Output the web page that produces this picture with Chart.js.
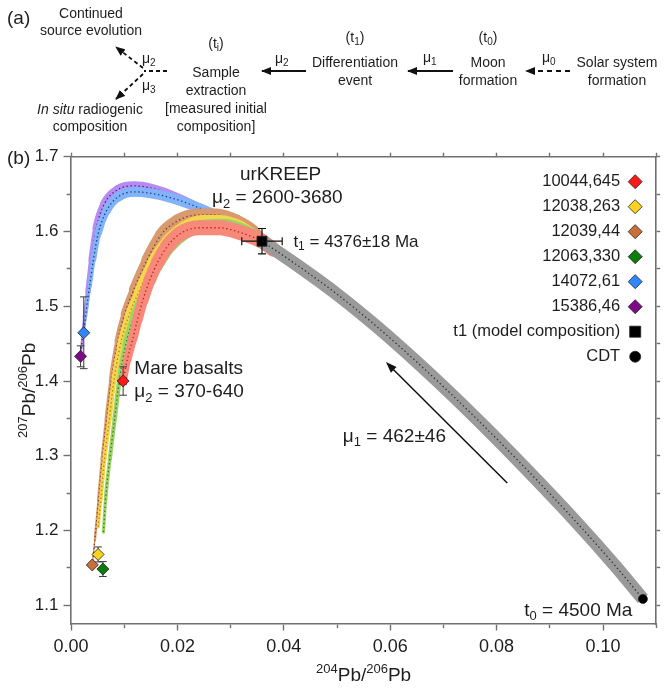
<!DOCTYPE html>
<html>
<head>
<meta charset="utf-8">
<script src="https://cdn.jsdelivr.net/npm/chart.js@4.4.1/dist/chart.umd.min.js"></script>
<style>
html, body { margin: 0; padding: 0; background: #fff; }
#wrap { position: relative; width: 664px; height: 689px; }
#lead { position: absolute; left: 0; top: 0; }
#flow { position: absolute; left: 0; top: 0; }
</style>
</head>
<body>
<div id="wrap">
<canvas id="lead" width="664" height="689"></canvas>

<!-- panel (a): the evolution scheme -->
<svg id="flow" width="664" height="140" viewBox="0 0 664 140" font-family="'Liberation Sans', Arial, sans-serif" font-size="14" fill="#1e1e1e">
  <defs>
    <marker id="head" viewBox="0 0 10 8" refX="9" refY="4" markerWidth="10" markerHeight="8" markerUnits="userSpaceOnUse" orient="auto">
      <path d="M0,0 L10,4 L0,8 Z" fill="#111"/>
    </marker>
  </defs>
  <text x="7" y="24" font-size="19">(a)</text>

  <text x="91" y="18" text-anchor="middle">Continued</text>
  <text x="91" y="35" text-anchor="middle">source evolution</text>
  <text x="142" y="63">μ<tspan font-size="10" dy="3">2</tspan></text>
  <text x="142" y="90">μ<tspan font-size="10" dy="3">3</tspan></text>
  <text x="90" y="114" text-anchor="middle"><tspan font-style="italic">In situ</tspan> radiogenic</text>
  <text x="90" y="131" text-anchor="middle">composition</text>
  <line x1="167" y1="71" x2="144" y2="71" stroke="#111" stroke-width="2.2" stroke-dasharray="4,3"/>
  <line x1="143" y1="68" x2="116" y2="47" stroke="#111" stroke-width="1.8" stroke-dasharray="4,3" marker-end="url(#head)"/>
  <line x1="143" y1="74" x2="116" y2="99" stroke="#111" stroke-width="1.8" stroke-dasharray="4,3" marker-end="url(#head)"/>

  <text x="216" y="48" text-anchor="middle">(t<tspan font-size="10" dy="3">i</tspan><tspan dy="-3">)</tspan></text>
  <text x="216" y="77" text-anchor="middle">Sample</text>
  <text x="216" y="95" text-anchor="middle">extraction</text>
  <text x="216" y="113" text-anchor="middle">[measured initial</text>
  <text x="216" y="131" text-anchor="middle">composition]</text>

  <text x="275" y="63">μ<tspan font-size="10" dy="3">2</tspan></text>
  <line x1="306" y1="71" x2="262" y2="71" stroke="#111" stroke-width="2" marker-end="url(#head)"/>

  <text x="355" y="42" text-anchor="middle">(t<tspan font-size="10" dy="3">1</tspan><tspan dy="-3">)</tspan></text>
  <text x="355" y="67" text-anchor="middle">Differentiation</text>
  <text x="355" y="85" text-anchor="middle">event</text>

  <text x="423" y="62">μ<tspan font-size="10" dy="3">1</tspan></text>
  <line x1="453" y1="71" x2="408" y2="71" stroke="#111" stroke-width="2" marker-end="url(#head)"/>

  <text x="488" y="42" text-anchor="middle">(t<tspan font-size="10" dy="3">0</tspan><tspan dy="-3">)</tspan></text>
  <text x="488" y="67" text-anchor="middle">Moon</text>
  <text x="488" y="85" text-anchor="middle">formation</text>

  <text x="542" y="62">μ<tspan font-size="10" dy="3">0</tspan></text>
  <line x1="570" y1="71" x2="526" y2="71" stroke="#111" stroke-width="2" stroke-dasharray="5,4" marker-end="url(#head)"/>

  <text x="617" y="67" text-anchor="middle">Solar system</text>
  <text x="617" y="85" text-anchor="middle">formation</text>
</svg>
</div>

<script>
// =====================================
// DATA
// =====================================

const sampleNames = ["10044,645", "12038,263", "12039,44", "12063,330", "14072,61", "15386,46"];
const sampleX    = [0.0098, 0.0051, 0.0040, 0.0060, 0.0024, 0.0018];
const sampleY    = [1.400, 1.168, 1.154, 1.1485, 1.4645, 1.433];
const sampleXErr = [0.0006, 0, 0, 0, 0, 0];
const sampleYErr = [0.019, 0.010, 0, 0.010, 0.048, 0.014];

const t1Point = [0.0359, 1.587];
const t1Err   = [0.0038, 0.017];
const cdtPoint = [0.1075, 1.1085];

// model growth curves (sample -> t1)
const curve10044 = [[0.0098,1.400],[0.0106,1.429],[0.0116,1.456],[0.0125,1.482],[0.0135,1.508],[0.0148,1.535],[0.0163,1.559],[0.0181,1.580],[0.0203,1.596],[0.0241,1.605],[0.0278,1.605],[0.0321,1.598],[0.0347,1.591],[0.0359,1.587],[0.0380,1.576]];
const curve12038 = [[0.0051,1.205],[0.0056,1.242],[0.0063,1.296],[0.0072,1.349],[0.0081,1.402],[0.0093,1.449],[0.0108,1.486],[0.0128,1.520],[0.0153,1.558],[0.0181,1.587],[0.0211,1.605],[0.0246,1.614],[0.0282,1.614],[0.0319,1.606],[0.0345,1.594],[0.0359,1.587]];
const curve12039 = [[0.0040,1.154],[0.0045,1.189],[0.0052,1.242],[0.0059,1.296],[0.0067,1.349],[0.0076,1.402],[0.0088,1.454],[0.0101,1.490],[0.0118,1.522],[0.0143,1.562],[0.0170,1.596],[0.0200,1.614],[0.0237,1.622],[0.0274,1.622],[0.0311,1.614],[0.0343,1.600],[0.0359,1.587]];
const curve12063 = [[0.0061,1.198],[0.0065,1.242],[0.0073,1.296],[0.0082,1.349],[0.0091,1.402],[0.0103,1.449],[0.0118,1.485],[0.0137,1.517],[0.0162,1.553],[0.0188,1.581],[0.0218,1.599],[0.0252,1.608],[0.0287,1.609],[0.0324,1.602],[0.0359,1.587]];
const curve14072 = [[0.0024,1.4645],[0.0029,1.496],[0.0035,1.527],[0.0042,1.562],[0.0051,1.597],[0.0067,1.628],[0.0088,1.646],[0.0119,1.653],[0.0150,1.651],[0.0188,1.645],[0.0225,1.636],[0.0262,1.625],[0.0315,1.604],[0.0359,1.587]];
const curve15386 = [[0.0018,1.433],[0.0022,1.462],[0.0026,1.485],[0.0032,1.520],[0.0039,1.562],[0.0048,1.605],[0.0063,1.637],[0.0088,1.656],[0.0119,1.661],[0.0150,1.658],[0.0188,1.649],[0.0240,1.632],[0.0297,1.612],[0.0359,1.587]];

// single stage growth CDT -> t1
const curveCdt = [[0.0359,1.587],[0.0427,1.554],[0.0502,1.515],[0.0576,1.472],[0.0669,1.413],[0.0763,1.349],[0.0856,1.282],[0.0949,1.212],[0.1024,1.152],[0.1075,1.1085]];

const growthArrow = [[0.0820, 1.2636], [0.0592, 1.4253]]; // tail, head

// =====================================
// STYLE
// =====================================

const FONT = "'Liberation Sans', Arial, Helvetica, sans-serif";
const AXIS = "#707070";
const INK = "#1e1e1e";

const markerColors = ["#ff1a1a", "#ffd21f", "#c9703a", "#0b7d0b", "#2f86ff", "#7d0a86"];

// band widths (px) along each curve
const width10044 = [7,8,9,10,11,12,13,14,15,15,15,15,15,15,14];
const width12038 = [3,3.5,4,4.5,5,6,7.5,9,10.5,11.5,12,12,12,12,11,11];
const width12039 = [1,2,3,3.5,4,4.5,6,7,9,11,12,13,13,13,13,12,12];
const width12063 = [3,3.5,4,4.5,5,6,7.5,9,10.5,11.5,12,12,12,12,12];
const width14072 = [2,3,4,5,6.5,8,9.5,10,10,10,10,10,10,10];
const width15386 = [2,3,4,5,6,7.5,8.5,9,9,9,9,9,9,9];

const toXY = pts => pts.map(p => ({x: p[0], y: p[1]}));

function bandSet(pts, widths, color){
    return {
        data: toXY(pts),
        showLine: true,
        borderColor: color,
        borderWidth: Math.max(...widths),
        borderCapStyle: "round",
        borderJoinStyle: "round",
        cubicInterpolationMode: "monotone",
        pointRadius: 0,
        segment: {
            borderWidth: c => (widths[c.p0DataIndex] + widths[c.p1DataIndex]) / 2
        }
    };
}

function dotSet(pts, color){
    return {
        data: toXY(pts),
        showLine: true,
        borderColor: color,
        borderWidth: 1.3,
        borderDash: [1.4, 2.6],
        cubicInterpolationMode: "monotone",
        pointRadius: 0
    };
}

function markerSet(x, y, style, radius, color){
    return {
        data: [{x: x, y: y}],
        showLine: false,
        pointStyle: style,
        pointRadius: radius,
        pointBackgroundColor: color,
        pointBorderColor: "#222",
        pointBorderWidth: 0.8
    };
}

const grayBand = {
    data: toXY(curveCdt),
    showLine: true,
    borderColor: "#9a9a9a",
    borderWidth: 13,
    borderCapStyle: "butt",
    cubicInterpolationMode: "monotone",
    pointRadius: 0
};

const grayDots = dotSet(curveCdt, "#333");
grayDots.errorsAfter = true;

// drawing order: first in list is drawn first
const datasets = [
    bandSet(curve15386, width15386, "#b48cf2"), dotSet(curve15386, "#4b1f7a"),
    bandSet(curve14072, width14072, "#82b2f7"), dotSet(curve14072, "#1c3f9a"),
    bandSet(curve12039, width12039, "#d89a6e"), dotSet(curve12039, "#7a4520"),
    bandSet(curve12038, width12038, "#f5d44e"), dotSet(curve12038, "#b08a00"),
    bandSet(curve12063, width12063, "#9dd26a"), dotSet(curve12063, "#2f7d1a"),
    bandSet(curve10044, width10044, "#f7897b"), dotSet(curve10044, "#c0201a"),
    grayBand, grayDots
];

sampleNames.forEach((name, i) => {
    datasets.push(markerSet(sampleX[i], sampleY[i], "rectRot", 6, markerColors[i]));
});
datasets.push(markerSet(t1Point[0], t1Point[1], "rect", 7, "#000"));
datasets.push(markerSet(cdtPoint[0], cdtPoint[1], "circle", 4.5, "#000"));

datasets.forEach((d, i) => { d.order = datasets.length - i; });

// =====================================
// LABELS
// =====================================

const plotLabels = [
    {parts: [{t: "urKREEP"}], x: 0.0394, y: 1.6689, size: 19, align: "center"},
    {parts: [{t: "μ"}, {t: "2", sub: true}, {t: " = 2600-3680"}], x: 0.0265, y: 1.6376, size: 19},
    {parts: [{t: "t"}, {t: "1", sub: true}, {t: " = 4376±18 Ma"}], x: 0.0418, y: 1.5796, size: 17},
    {parts: [{t: "Mare basalts"}], x: 0.0119, y: 1.409, size: 19},
    {parts: [{t: "μ"}, {t: "2", sub: true}, {t: " = 370-640"}], x: 0.0119, y: 1.378, size: 19},
    {parts: [{t: "μ"}, {t: "1", sub: true}, {t: " = 462±46"}], x: 0.0511, y: 1.3183, size: 19},
    {parts: [{t: "t"}, {t: "0", sub: true}, {t: " = 4500 Ma"}], x: 0.0852, y: 1.0862, size: 19}
];

const legendRows = sampleNames.map((n, i) => ({text: n, style: "rectRot", radius: 7, color: markerColors[i]}))
    .concat([
        {text: "t1 (model composition)", style: "rect", radius: 7.8, color: "#000"},
        {text: "CDT", style: "circle", radius: 5.5, color: "#000"}
    ]);

function richText(ctx, parts, x, y, size, align){
    const small = Math.round(size * 0.68);
    const fontOf = p => (p.sub || p.sup ? small : size) + "px " + FONT;
    const widthOf = p => { ctx.font = fontOf(p); return ctx.measureText(p.t).width; };
    const total = parts.reduce((s, p) => s + widthOf(p), 0);
    let cx = align === "center" ? x - total / 2 : (align === "right" ? x - total : x);
    ctx.textAlign = "left";
    ctx.textBaseline = "alphabetic";
    parts.forEach(p => {
        const w = widthOf(p);
        const dy = p.sub ? size * 0.22 : (p.sup ? -size * 0.4 : 0);
        ctx.fillText(p.t, cx, y + dy);
        cx += w;
    });
}

function errorBar(ctx, xs, ys, vx, vy, ex, ey, cap){
    const px = xs.getPixelForValue(vx);
    const py = ys.getPixelForValue(vy);
    ctx.beginPath();
    if (ey){
        const top = ys.getPixelForValue(vy + ey);
        const bot = ys.getPixelForValue(vy - ey);
        ctx.moveTo(px, top); ctx.lineTo(px, bot);
        ctx.moveTo(px - cap, top); ctx.lineTo(px + cap, top);
        ctx.moveTo(px - cap, bot); ctx.lineTo(px + cap, bot);
    }
    if (ex){
        const lft = xs.getPixelForValue(vx - ex);
        const rgt = xs.getPixelForValue(vx + ex);
        ctx.moveTo(lft, py); ctx.lineTo(rgt, py);
        ctx.moveTo(lft, py - cap); ctx.lineTo(lft, py + cap);
        ctx.moveTo(rgt, py - cap); ctx.lineTo(rgt, py + cap);
    }
    ctx.stroke();
}

const overlay = {
    id: "overlay",
    afterDatasetDraw(chart, args){
        if (!chart.data.datasets[args.index].errorsAfter) return;
        const {ctx, scales: {x, y}} = chart;
        ctx.save();
        ctx.strokeStyle = "#3a3a3a";
        ctx.lineWidth = 1;
        sampleX.forEach((sx, i) => errorBar(ctx, x, y, sx, sampleY[i], sampleXErr[i], sampleYErr[i], 3.8));
        ctx.strokeStyle = "#111";
        ctx.lineWidth = 1.2;
        errorBar(ctx, x, y, t1Point[0], t1Point[1], t1Err[0], t1Err[1], 4);
        ctx.restore();
    },
    afterDraw(chart){
        const {ctx, chartArea, scales: {x, y}} = chart;
        ctx.save();
        ctx.fillStyle = INK;

        // panel tag
        ctx.font = "19px " + FONT;
        ctx.textAlign = "left";
        ctx.textBaseline = "alphabetic";
        ctx.fillText("(b)", 7, 164);

        // annotations
        plotLabels.forEach(l => {
            richText(ctx, l.parts, x.getPixelForValue(l.x), y.getPixelForValue(l.y), l.size, l.align);
        });

        // growth arrow
        const ax0 = x.getPixelForValue(growthArrow[0][0]), ay0 = y.getPixelForValue(growthArrow[0][1]);
        const ax1 = x.getPixelForValue(growthArrow[1][0]), ay1 = y.getPixelForValue(growthArrow[1][1]);
        const ang = Math.atan2(ay1 - ay0, ax1 - ax0);
        ctx.strokeStyle = "#111";
        ctx.lineWidth = 1.5;
        ctx.beginPath();
        ctx.moveTo(ax0, ay0);
        ctx.lineTo(ax1 - 8 * Math.cos(ang), ay1 - 8 * Math.sin(ang));
        ctx.stroke();
        ctx.beginPath();
        ctx.moveTo(ax1, ay1);
        ctx.lineTo(ax1 - 11 * Math.cos(ang) + 4 * Math.sin(ang), ay1 - 11 * Math.sin(ang) - 4 * Math.cos(ang));
        ctx.lineTo(ax1 - 11 * Math.cos(ang) - 4 * Math.sin(ang), ay1 - 11 * Math.sin(ang) + 4 * Math.cos(ang));
        ctx.closePath();
        ctx.fillStyle = "#111";
        ctx.fill();

        // legend
        const mx = chartArea.right - 21;
        const textRight = mx - 15;
        legendRows.forEach((r, i) => {
            const ry = chartArea.top + 25 + i * 25;
            ctx.fillStyle = INK;
            ctx.font = "16.5px " + FONT;
            ctx.textAlign = "right";
            ctx.textBaseline = "middle";
            ctx.fillText(r.text, textRight, ry);
            ctx.fillStyle = r.color;
            ctx.strokeStyle = "#222";
            ctx.lineWidth = 0.8;
            Chart.helpers.drawPoint(ctx, {pointStyle: r.style, radius: r.radius, borderWidth: 0.8, rotation: 0}, mx, ry);
        });

        // axis titles
        ctx.fillStyle = INK;
        richText(ctx, [{t: "204", sup: true}, {t: "Pb/"}, {t: "206", sup: true}, {t: "Pb"}],
            (chartArea.left + chartArea.right) / 2, 681, 19, "center");
        ctx.save();
        ctx.translate(34.5, (chartArea.top + chartArea.bottom) / 2);
        ctx.rotate(-Math.PI / 2);
        richText(ctx, [{t: "207", sup: true}, {t: "Pb/"}, {t: "206", sup: true}, {t: "Pb"}], 0, 0, 19, "center");
        ctx.restore();

        ctx.restore();
    }
};

// =====================================
// AXES
// =====================================

const minorX = v => Math.round(v * 100) % 2 !== 0;
const minorY = v => Math.round(v * 100) % 10 !== 0;

function frameGrid(length, dashFor){
    return {
        drawOnChartArea: false,
        drawTicks: true,
        tickLength: length,
        tickWidth: 1.4,
        tickColor: AXIS,
        tickBorderDash: c => (c.tick && dashFor) ? dashFor(c.tick.value) : []
    };
}

const scales = {
    x: {
        type: "linear", position: "bottom", min: 0, max: 0.11,
        afterFit: s => { s.height = 65; },
        border: {color: AXIS, width: 1.6},
        grid: frameGrid(6.5, v => minorX(v) ? [3.5, 100] : []),
        ticks: {
            stepSize: 0.01, includeBounds: false, autoSkip: false, maxRotation: 0,
            padding: 6, color: INK, font: {family: FONT, size: 18},
            callback: v => minorX(v) ? "" : v.toFixed(2)
        }
    },
    y: {
        type: "linear", position: "left", min: 1.075, max: 1.7,
        afterFit: s => { s.width = 71; },
        border: {color: AXIS, width: 1.6},
        grid: frameGrid(7.5, v => minorY(v) ? [0, 3.2, 3.5, 0] : []),
        ticks: {
            stepSize: 0.05, includeBounds: false, autoSkip: false,
            padding: 5, color: INK, font: {family: FONT, size: 17},
            callback: v => minorY(v) ? "" : v.toFixed(1)
        }
    },
    x2: {
        type: "linear", position: "top", min: 0, max: 0.11,
        afterFit: s => { s.height = 6.7; },
        border: {color: AXIS, width: 1.6},
        grid: frameGrid(4),
        ticks: {display: false, stepSize: 0.01, includeBounds: false, autoSkip: false}
    },
    y2: {
        type: "linear", position: "right", min: 1.075, max: 1.7,
        afterFit: s => { s.width = 3; },
        border: {color: AXIS, width: 1.6},
        grid: frameGrid(4),
        ticks: {display: false, stepSize: 0.05, includeBounds: false, autoSkip: false}
    }
};

// =====================================
// CHART
// =====================================

new Chart(document.getElementById("lead"), {
    type: "scatter",
    data: {datasets: datasets},
    options: {
        responsive: false,
        animation: false,
        devicePixelRatio: 1,
        events: [],
        layout: {padding: {top: 150, left: 0, right: 0, bottom: 0}},
        plugins: {legend: {display: false}, tooltip: {enabled: false}},
        scales: scales
    },
    plugins: [overlay]
});
</script>
</body>
</html>
